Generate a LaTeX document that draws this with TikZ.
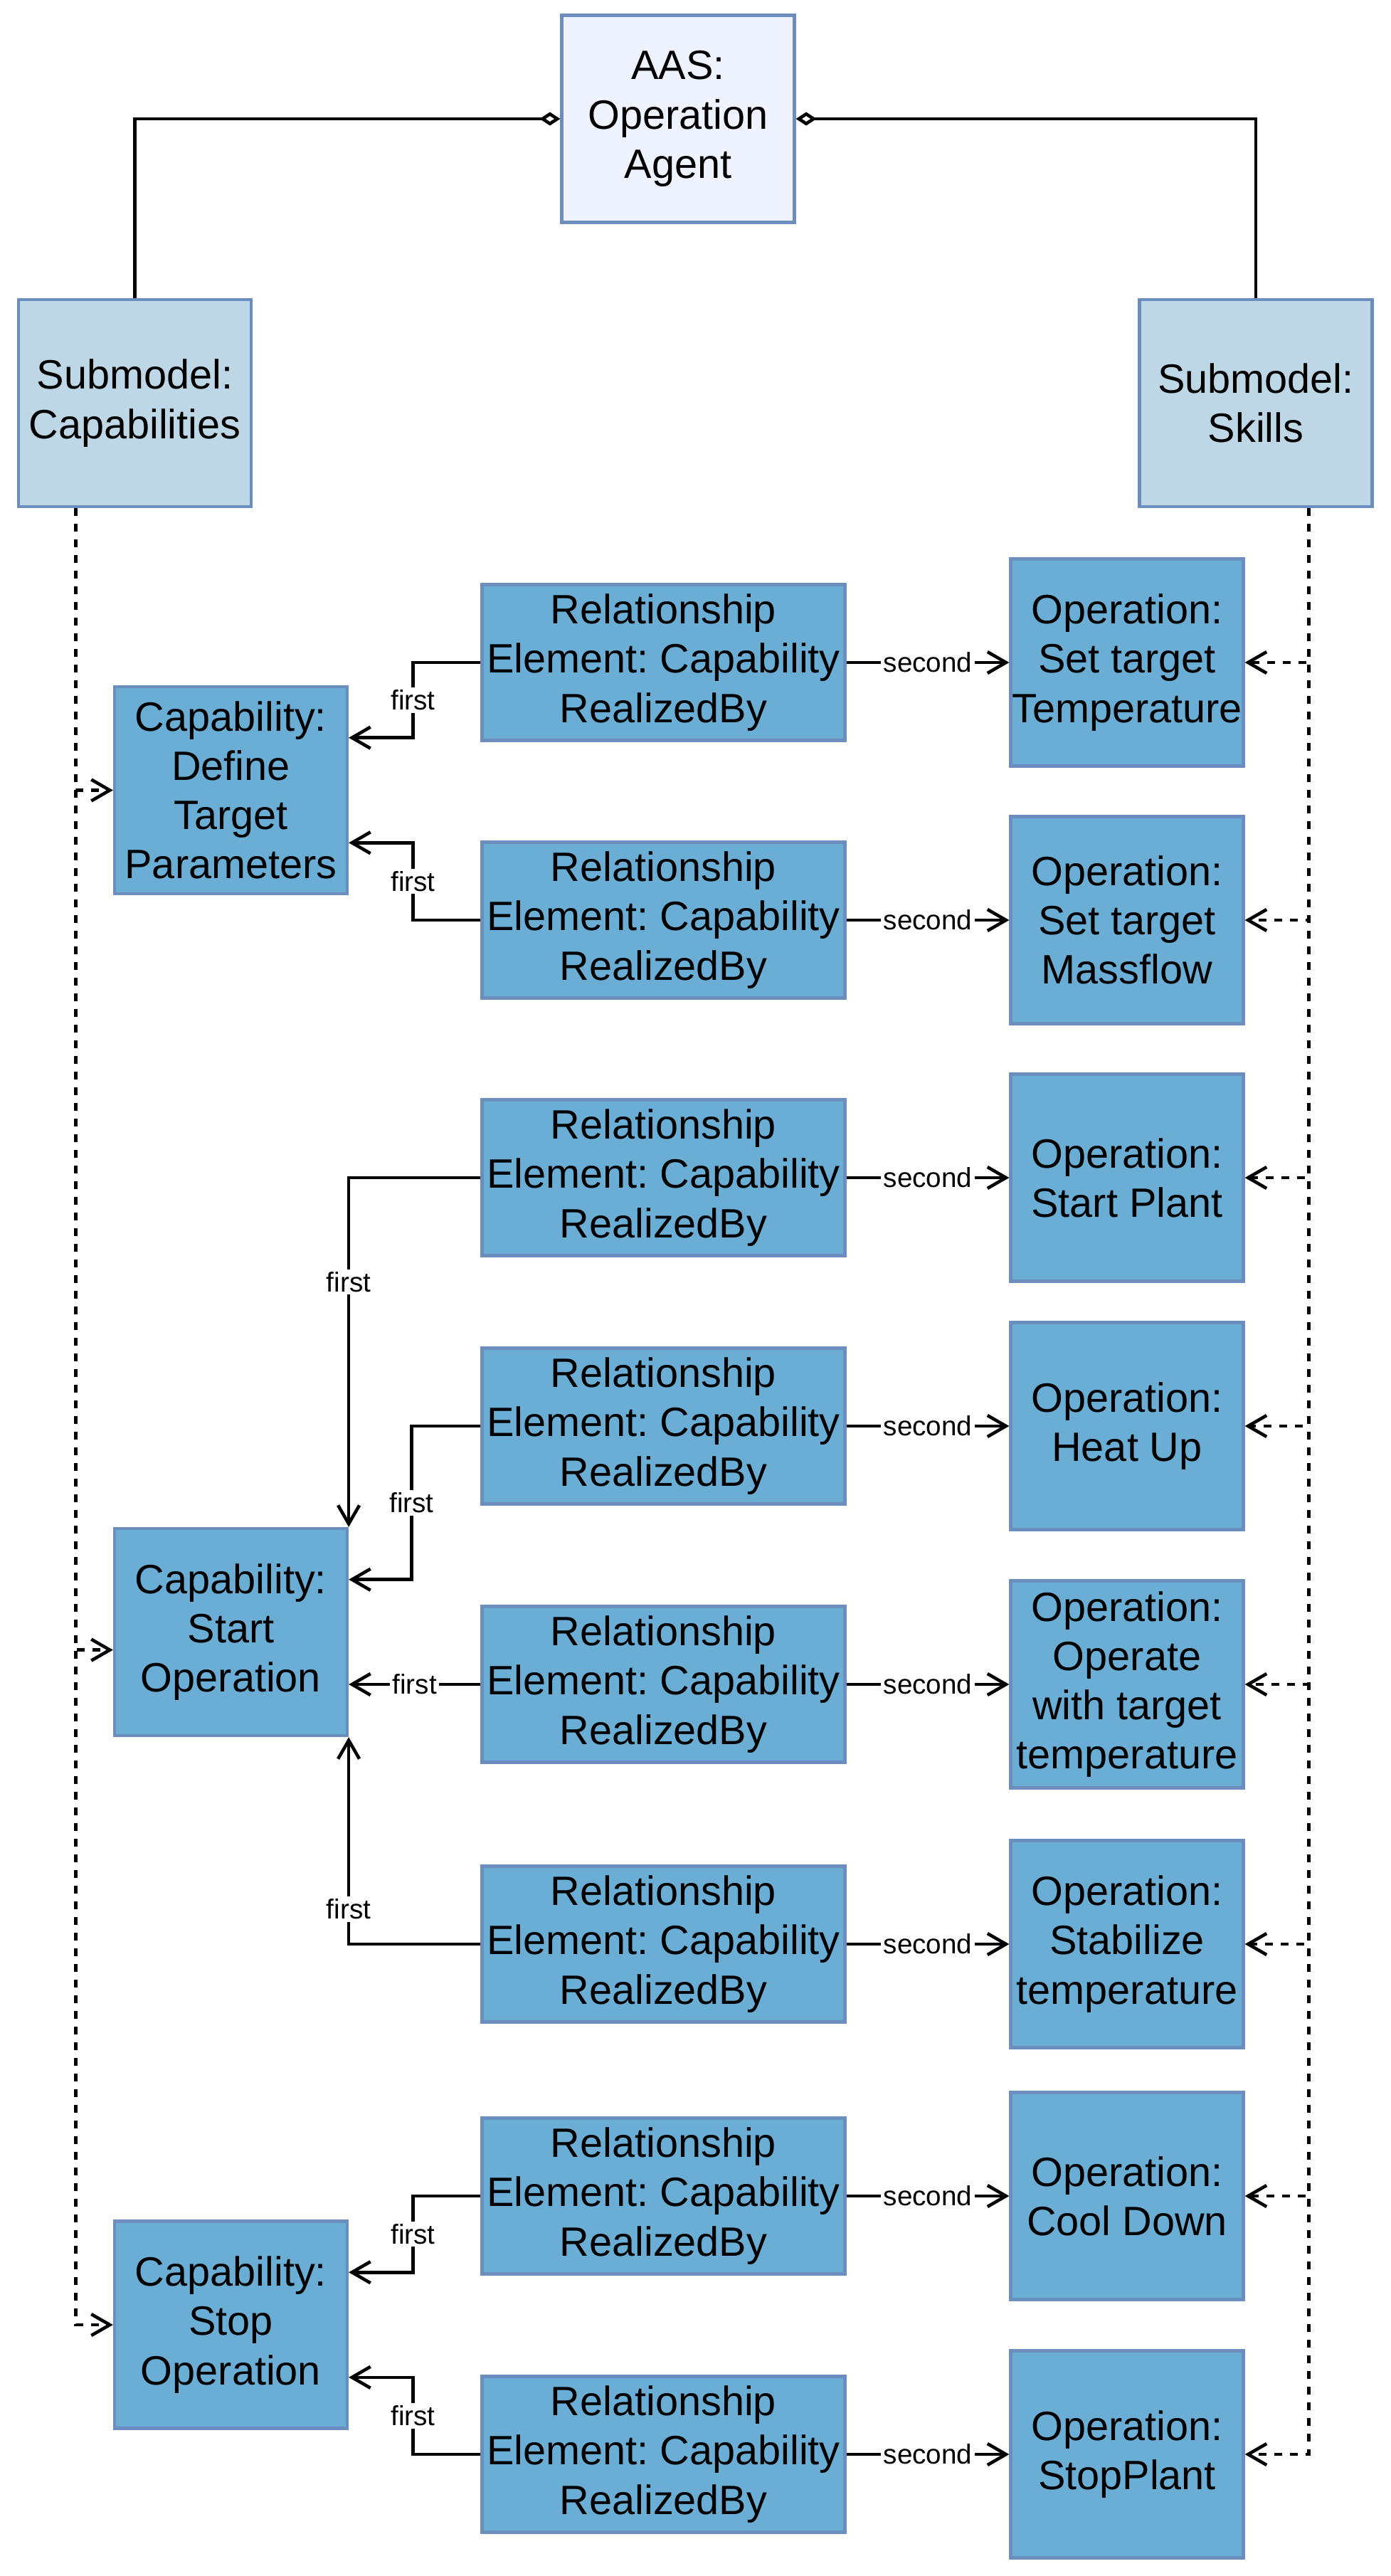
\documentclass[tikz,border=0pt]{standalone}
\usepackage{fontspec}
\setmainfont{Liberation Sans}
\frenchspacing
\usetikzlibrary{arrows.meta,calc,positioning}
\definecolor{aasfill}{RGB}{238,243,255}
\definecolor{smfill}{RGB}{190,215,230}
\definecolor{elemfill}{RGB}{106,174,214}
\definecolor{elemline}{RGB}{108,142,191}

\begin{document}
\begin{tikzpicture}[
    box/.style={draw=elemline, line width=1.2pt, fill=elemfill, align=center, inner sep=0pt,
        minimum width=3.27cm, minimum height=2.91cm, font=\fontsize{16.4}{19.7}\selectfont},
    relbox/.style={box, minimum width=5.1cm, minimum height=2.19cm},
    link/.style={line width=1.3pt, -{Straight Barb[length=0.26cm, width=0.3cm]}},
    dashlink/.style={link, dash pattern=on 0.11cm off 0.11cm},
    agg/.style={line width=1.3pt, -{Diamond[open, length=0.29cm, width=0.19cm]}},
    lbl/.style={fill=white, inner sep=1pt, font=\fontsize{11}{13}\selectfont}
]
    \useasboundingbox (0,0) rectangle (19.54,-36.20);

    % AAS and its submodels
    \node[box, fill=aasfill] (aas) at (9.53,-1.67) {AAS:\\Operation\\Agent};
    \node[box, fill=smfill] (smcap) at (1.895,-5.665) {Submodel:\\Capabilities};
    \node[box, fill=smfill] (smskill) at (17.65,-5.665) {Submodel:\\Skills};
    \draw[agg] (smcap.north) |- (aas.west);
    \draw[agg] (smskill.north) |- (aas.east);

    % capabilities
    \node[box] (capdef) at (3.245,-11.105) {Capability:\\Define\\Target\\Parameters};
    \node[box] (capstart) at (3.245,-22.935) {Capability:\\Start\\Operation};
    \node[box] (capstop) at (3.245,-32.67) {Capability:\\Stop\\Operation};

    % relationship elements
    \node[relbox] (rel1) at (9.325,-9.31) {Relationship\\Element: Capability\\RealizedBy};
    \node[relbox] (rel2) at (9.325,-12.93) {Relationship\\Element: Capability\\RealizedBy};
    \node[relbox] (rel3) at (9.325,-16.55) {Relationship\\Element: Capability\\RealizedBy};
    \node[relbox] (rel4) at (9.325,-20.04) {Relationship\\Element: Capability\\RealizedBy};
    \node[relbox] (rel5) at (9.325,-23.67) {Relationship\\Element: Capability\\RealizedBy};
    \node[relbox] (rel6) at (9.325,-27.32) {Relationship\\Element: Capability\\RealizedBy};
    \node[relbox] (rel7) at (9.325,-30.86) {Relationship\\Element: Capability\\RealizedBy};
    \node[relbox] (rel8) at (9.325,-34.49) {Relationship\\Element: Capability\\RealizedBy};

    % operations
    \node[box] (op1) at (15.84,-9.31) {Operation:\\Set target\\Temperature};
    \node[box] (op2) at (15.84,-12.93) {Operation:\\Set target\\Massflow};
    \node[box] (op3) at (15.84,-16.55) {Operation:\\Start Plant};
    \node[box] (op4) at (15.84,-20.04) {Operation:\\Heat Up};
    \node[box] (op5) at (15.84,-23.67) {Operation:\\Operate\\with target\\temperature};
    \node[box] (op6) at (15.84,-27.32) {Operation:\\Stabilize\\temperature};
    \node[box] (op7) at (15.84,-30.86) {Operation:\\Cool Down};
    \node[box] (op8) at (15.84,-34.49) {Operation:\\StopPlant};

    % second
    \draw[link] (rel1.east) -- node[lbl] {second} (op1.west);
    \draw[link] (rel2.east) -- node[lbl] {second} (op2.west);
    \draw[link] (rel3.east) -- node[lbl] {second} (op3.west);
    \draw[link] (rel4.east) -- node[lbl] {second} (op4.west);
    \draw[link] (rel5.east) -- node[lbl] {second} (op5.west);
    \draw[link] (rel6.east) -- node[lbl] {second} (op6.west);
    \draw[link] (rel7.east) -- node[lbl] {second} (op7.west);
    \draw[link] (rel8.east) -- node[lbl] {second} (op8.west);

    % first
    \draw[link] (rel1.west) -- ++(-0.95,0) |- node[lbl, pos=0.25] {first} ($(capdef.north east)!0.25!(capdef.south east)$);
    \draw[link] (rel2.west) -- ++(-0.95,0) |- node[lbl, pos=0.25] {first} ($(capdef.north east)!0.75!(capdef.south east)$);
    \draw[link] (rel3.west) -| node[lbl, pos=0.649] {first} (capstart.north east);
    \draw[link] (rel4.west) -- ++(-0.97,0) |- node[lbl, pos=0.25] {first} ($(capstart.north east)!0.25!(capstart.south east)$);
    \draw[link] (rel5.west) -- node[lbl] {first} (rel5.west -| capstart.east);
    \draw[link] (rel6.west) -| node[lbl, pos=0.584] {first} (capstart.south east);
    \draw[link] (rel7.west) -- ++(-0.95,0) |- node[lbl, pos=0.25] {first} ($(capstop.north east)!0.25!(capstop.south east)$);
    \draw[link] (rel8.west) -- ++(-0.95,0) |- node[lbl, pos=0.25] {first} ($(capstop.north east)!0.75!(capstop.south east)$);

    % submodel contents
    \coordinate (capbus) at ($(smcap.south west)!0.25!(smcap.south east)$);
    \coordinate (skillbus) at ($(smskill.south west)!0.725!(smskill.south east)$);
    \draw[dashlink] (capbus) |- (capdef.west);
    \draw[dashlink] (capbus) |- ($(capstart.north west)!0.585!(capstart.south west)$);
    \draw[dashlink] (capbus) |- (capstop.west);
    \draw[dashlink] (skillbus) |- (op1.east);
    \draw[dashlink] (skillbus) |- (op2.east);
    \draw[dashlink] (skillbus) |- (op3.east);
    \draw[dashlink] (skillbus) |- (op4.east);
    \draw[dashlink] (skillbus) |- (op5.east);
    \draw[dashlink] (skillbus) |- (op6.east);
    \draw[dashlink] (skillbus) |- (op7.east);
    \draw[dashlink] (skillbus) |- (op8.east);
\end{tikzpicture}
\end{document}
